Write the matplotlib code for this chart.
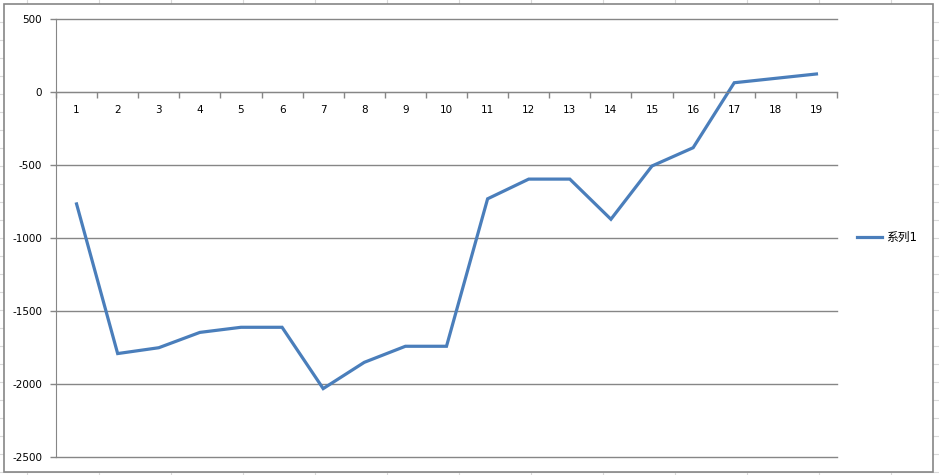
import matplotlib.pyplot as plt
from matplotlib.lines import Line2D
from matplotlib.patches import Rectangle
import numpy as np

plt.rcParams['font.family'] = ['DejaVu Sans', 'Noto Sans CJK SC']
plt.rcParams['axes.unicode_minus'] = False

categories = [str(i) for i in range(1, 20)]
values = [-770, -1795, -1755, -1650, -1615, -1615, -2035, -1855, -1745, -1745,
          -735, -600, -600, -875, -510, -385, 60, 90, 120]
series_name = '系列1'

W, H = 939, 475
fig = plt.figure(figsize=(W / 100, H / 100), dpi=100)

# spreadsheet cell grid behind the chart
for x in np.arange(26.7, W, 72):
    fig.add_artist(Line2D([x / W, x / W], [0, 1], color='#d9d9d9', lw=0.8, zorder=-3))
for y in np.arange(22, H, 18):
    fig.add_artist(Line2D([0, 1], [1 - y / H, 1 - y / H], color='#d9d9d9', lw=0.8, zorder=-3))

# chart area
fig.add_artist(Rectangle((4 / W, 1 - 472 / H), 929 / W, 468 / H,
                         facecolor='white', edgecolor='#868686', lw=1.2, zorder=-2))

ax = fig.add_axes([56 / W, 1 - 456.5 / H, 781 / W, 438 / H])
ax.set_facecolor('none')

x = np.arange(1, len(values) + 1)
ax.plot(x, values, color='#4a7ebb', lw=2.3, label=series_name, solid_joinstyle='miter')

ax.set_xlim(0.5, len(values) + 0.5)
ax.set_ylim(-2500, 500)
ax.set_yticks(np.arange(-2500, 501, 500))
ax.yaxis.grid(True, color='#868686', lw=1)
ax.set_axisbelow(True)
for gl in ax.get_ygridlines():
    gl.set_clip_on(False)

for s in ['top', 'right']:
    ax.spines[s].set_visible(False)
ax.spines['left'].set_color('#868686')
ax.spines['bottom'].set_color('#868686')
ax.spines['bottom'].set_position(('data', 0))

ax.tick_params(axis='y', colors='#868686', length=4, width=1, labelsize=7.5,
               labelcolor='black', pad=6)
ax.set_xticks(np.arange(0.5, len(values) + 1, 1))
ax.set_xticklabels([])
ax.set_xticks(x, minor=True)
ax.set_xticklabels(categories, minor=True)
ax.tick_params(axis='x', which='major', colors='#868686', length=4, width=1, direction='out')
ax.tick_params(axis='x', which='minor', length=0, labelsize=7.5, labelcolor='black', pad=10)

leg = ax.legend(loc='center left', bbox_to_anchor=(1.02, 0.5), frameon=False,
                fontsize=8.5, handlelength=2.1, handletextpad=0.3, borderaxespad=0)

fig.savefig('out.png', dpi=100)
